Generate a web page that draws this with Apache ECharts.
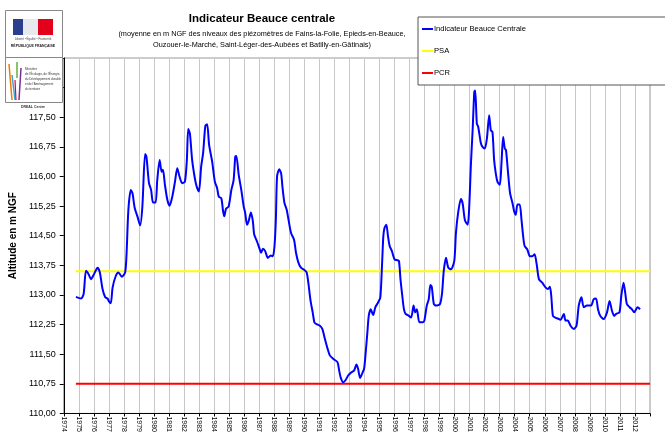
<!DOCTYPE html>
<html>
<head>
<meta charset="utf-8">
<script src="https://cdn.jsdelivr.net/npm/echarts@6/dist/echarts.min.js"></script>
<style>
html, body { margin: 0; padding: 0; background: #fff; }
#chart { width: 665px; height: 435px; }
</style>
</head>
<body>
<div id="chart"></div>
<script>
// niveaux (années décimales / m NGF)
var years = [
	1974.81, 1975.15, 1975.32, 1975.48, 1975.66, 1975.81, 1976.03, 1976.25, 1976.40, 1976.58,
	1976.76, 1976.91, 1977.02, 1977.13, 1977.25, 1977.46, 1977.64, 1977.86, 1978.08, 1978.17,
	1978.30, 1978.46, 1978.57, 1978.72, 1978.90, 1979.08, 1979.23, 1979.41, 1979.50, 1979.67,
	1979.81, 1979.94, 1980.11, 1980.22, 1980.38, 1980.51, 1980.60, 1980.73, 1980.89, 1981.04,
	1981.22, 1981.40, 1981.55, 1981.70, 1981.88, 1982.06, 1982.19, 1982.28, 1982.39, 1982.54,
	1982.70, 1982.83, 1982.99, 1983.14, 1983.27, 1983.42, 1983.54, 1983.67, 1983.87, 1984.05,
	1984.20, 1984.31, 1984.48, 1984.60, 1984.68, 1984.79, 1984.97, 1985.15, 1985.30, 1985.41,
	1985.48, 1985.64, 1985.81, 1985.97, 1986.07, 1986.19, 1986.30, 1986.45, 1986.58, 1986.67,
	1986.85, 1987.00, 1987.13, 1987.25, 1987.40, 1987.58, 1987.77, 1987.91, 1988.02, 1988.11,
	1988.19, 1988.33, 1988.46, 1988.55, 1988.68, 1988.83, 1988.95, 1989.12, 1989.32, 1989.45,
	1989.61, 1989.78, 1990.01, 1990.16, 1990.27, 1990.42, 1990.56, 1990.67, 1990.77, 1991.04,
	1991.20, 1991.37, 1991.55, 1991.70, 1991.93, 1992.21, 1992.32, 1992.43, 1992.59, 1992.74,
	1992.92, 1993.10, 1993.32, 1993.47, 1993.58, 1993.71, 1993.85, 1993.98, 1994.07, 1994.20,
	1994.29, 1994.42, 1994.58, 1994.73, 1994.91, 1995.06, 1995.17, 1995.26, 1995.34, 1995.46,
	1995.57, 1995.68, 1995.83, 1996.01, 1996.19, 1996.30, 1996.40, 1996.52, 1996.63, 1996.74,
	1996.89, 1997.11, 1997.27, 1997.38, 1997.49, 1997.66, 1997.89, 1997.99, 1998.15, 1998.28,
	1998.39, 1998.48, 1998.62, 1998.77, 1999.03, 1999.17, 1999.28, 1999.43, 1999.58, 1999.76,
	1999.98, 2000.09, 2000.25, 2000.42, 2000.54, 2000.69, 2000.87, 2000.97, 2001.09, 2001.20,
	2001.31, 2001.37, 2001.48, 2001.57, 2001.75, 2001.86, 2002.01, 2002.15, 2002.30, 2002.41,
	2002.52, 2002.63, 2002.74, 2002.85, 2003.01, 2003.12, 2003.23, 2003.34, 2003.42, 2003.56,
	2003.69, 2003.85, 2003.96, 2004.07, 2004.18, 2004.33, 2004.45, 2004.56, 2004.66, 2004.84,
	2005.01, 2005.17, 2005.32, 2005.46, 2005.61, 2005.83, 2006.05, 2006.21, 2006.34, 2006.43,
	2006.54, 2006.67, 2006.94, 2007.05, 2007.27, 2007.38, 2007.53, 2007.71, 2007.93, 2008.11,
	2008.26, 2008.44, 2008.59, 2008.81, 2009.08, 2009.25, 2009.41, 2009.54, 2009.69, 2009.91,
	2010.14, 2010.31, 2010.47, 2010.62, 2010.75, 2010.97, 2011.09, 2011.24, 2011.35, 2011.46,
	2011.64, 2011.79, 2011.95, 2012.08, 2012.17, 2012.34
];
var levels = [
	112.95, 112.91, 113.02, 113.61, 113.52, 113.40, 113.54, 113.69, 113.57, 113.15,
	112.94, 112.91, 112.83, 112.79, 113.19, 113.48, 113.57, 113.46, 113.57, 113.98,
	115.16, 115.66, 115.58, 115.20, 114.99, 114.76, 115.24, 116.57, 116.50, 115.83,
	115.66, 115.34, 115.34, 115.91, 116.42, 116.12, 116.17, 115.79, 115.41, 115.26,
	115.49, 115.87, 116.21, 116.00, 115.83, 115.87, 116.42, 117.20, 117.09, 116.42,
	116.00, 115.76, 115.62, 116.25, 116.59, 117.28, 117.32, 116.80, 116.38, 115.87,
	115.71, 115.49, 115.45, 115.12, 114.99, 115.18, 115.24, 115.66, 115.91, 116.50,
	116.52, 116.04, 115.66, 115.24, 115.08, 114.78, 114.87, 115.09, 114.87, 114.53,
	114.36, 114.20, 114.07, 114.17, 114.11, 113.94, 114.00, 113.98, 114.24, 114.91,
	116.00, 116.18, 116.08, 115.73, 115.33, 115.16, 114.91, 114.57, 114.40, 114.07,
	113.82, 113.69, 113.63, 113.57, 113.31, 112.85, 112.56, 112.31, 112.27, 112.22,
	112.14, 111.89, 111.64, 111.47, 111.38, 111.30, 111.09, 110.90, 110.79, 110.84,
	110.96, 111.03, 111.09, 111.24, 111.13, 110.90, 111.01, 111.13, 111.47, 112.06,
	112.47, 112.64, 112.49, 112.69, 112.81, 112.94, 113.73, 114.49, 114.70, 114.78,
	114.49, 114.24, 114.11, 113.90, 113.88, 113.86, 113.40, 112.98, 112.64, 112.52,
	112.49, 112.43, 112.73, 112.56, 112.64, 112.31, 112.31, 112.35, 112.73, 112.89,
	113.25, 113.21, 112.77, 112.73, 112.77, 113.06, 113.61, 113.94, 113.69, 113.65,
	113.86, 114.57, 115.12, 115.43, 115.31, 114.89, 114.78, 115.20, 116.34, 117.17,
	118.14, 118.18, 117.34, 117.26, 116.84, 116.75, 116.71, 116.96, 117.55, 117.17,
	117.13, 116.42, 116.08, 115.87, 115.79, 116.34, 117.00, 116.71, 116.67, 116.08,
	115.58, 115.33, 115.12, 115.03, 115.29, 115.29, 114.91, 114.49, 114.24, 114.15,
	113.98, 113.98, 114.03, 113.78, 113.40, 113.31, 113.19, 113.15, 113.21, 112.98,
	112.47, 112.43, 112.39, 112.37, 112.52, 112.35, 112.35, 112.22, 112.14, 112.22,
	112.73, 112.94, 112.69, 112.73, 112.73, 112.89, 112.91, 112.64, 112.47, 112.39,
	112.56, 112.85, 112.60, 112.47, 112.52, 112.56, 112.98, 113.31, 113.06, 112.77,
	112.69, 112.64, 112.56, 112.64, 112.69, 112.64
];
var psaLevel = 113.60;
var pcrLevel = 110.75;
var thresholdYears = [1974.81, 2013];
var yTickLabels = [110, 110.75, 111.5, 112.25, 113, 113.75, 114.5, 115.25, 116, 116.75, 117.5];
var yTicks = [110, 110.75, 111.5, 112.25, 113, 113.75, 114.5, 115.25, 116, 116.75, 117.5, 118.25, 119];
var xTickLabels = [];
for (var y = 1974; y <= 2012; y++) {
	xTickLabels.push(y);
}

var seriesNames = ['Indicateur Beauce Centrale', 'PSA', 'PCR'];

var font = '"Liberation Sans", Arial, sans-serif';

var indicData = [];
for (var i = 0; i < years.length; i++) {
	indicData.push([years[i], levels[i]]);
}
var psaData = [];
var pcrData = [];
for (var i = 0; i < thresholdYears.length; i++) {
	psaData.push([thresholdYears[i], psaLevel]);
	pcrData.push([thresholdYears[i], pcrLevel]);
}

var myChart = echarts.init(document.getElementById('chart'), null, { renderer: 'canvas' });

var option = {
	animation: false,
	backgroundColor: '#fff',
	title: [{
		text: 'Indicateur Beauce centrale',
		left: 257,
		top: 8,
		textAlign: 'center',
		textStyle: { fontFamily: font, fontSize: 11.5, fontWeight: 'bold', color: '#000' }
	}, {
		text: '(moyenne en m NGF des niveaux des piézomètres de Fains-la-Folie, Epieds-en-Beauce,\nOuzouer-le-Marché, Saint-Léger-des-Aubées et Batilly-en-Gâtinais)',
		left: 257,
		top: 23,
		textAlign: 'center',
		textStyle: { fontFamily: font, fontSize: 7.3, fontWeight: 'normal', color: '#000', lineHeight: 11, align: 'center' }
	}],
	legend: {
		orient: 'vertical',
		left: 418,
		top: 17,
		padding: [6, 200, 6, 4],
		itemGap: 10,
		itemWidth: 11,
		itemHeight: 2,
		borderColor: '#555',
		borderWidth: 1,
		backgroundColor: '#fff',
		data: [
			{ name: seriesNames[0], icon: 'rect' },
			{ name: seriesNames[1], icon: 'rect' },
			{ name: seriesNames[2], icon: 'rect' }
		],
		textStyle: { fontFamily: font, fontSize: 7.6, color: '#000', lineHeight: 12, padding: [0, 0, 0, -4] }
	},
	grid: {
		left: 61,
		right: 15,
		top: 58,
		bottom: 20,
		show: true,
		borderColor: '#999',
		borderWidth: 1,
		containLabel: false
	},
	xAxis: {
		type: 'value',
		min: 1974,
		max: 2013,
		interval: 1,
		axisLine: { show: true, onZero: false, lineStyle: { color: '#000', width: 1 } },
		axisTick: { show: true, length: 3, lineStyle: { color: '#000' } },
		axisLabel: {
			rotate: -90,
			fontFamily: font,
			fontSize: 7,
			color: '#000',
			margin: 3,
			customValues: xTickLabels,
			formatter: function(v) { return String(v); }
		},
		splitLine: { show: true, lineStyle: { color: '#c8c8c8', width: 1 } }
	},
	yAxis: {
		type: 'value',
		min: 110,
		max: 119,
		name: 'Altitude en m NGF',
		nameLocation: 'middle',
		nameGap: 41,
		nameTextStyle: { fontFamily: font, fontSize: 10, fontWeight: 'bold', color: '#000' },
		axisLine: { show: true, lineStyle: { color: '#000', width: 1 } },
		axisTick: { show: true, length: 4, lineStyle: { color: '#000' }, customValues: yTicks },
		axisLabel: {
			fontFamily: font,
			fontSize: 9,
			color: '#000',
			margin: 8,
			customValues: yTickLabels,
			formatter: function(v) { return v.toFixed(2).replace('.', ','); }
		},
		splitLine: { show: false }
	},
	series: [{
		name: seriesNames[0],
		type: 'line',
		data: indicData,
		showSymbol: false,
		smooth: 0.25,
		z: 3,
		lineStyle: { color: '#0000ff', width: 2 },
		itemStyle: { color: '#0000ff' }
	}, {
		name: seriesNames[1],
		type: 'line',
		data: psaData,
		showSymbol: false,
		z: 2,
		lineStyle: { color: '#ffff00', width: 2 },
		itemStyle: { color: '#ffff00' }
	}, {
		name: seriesNames[2],
		type: 'line',
		data: pcrData,
		showSymbol: false,
		z: 2,
		lineStyle: { color: '#ff0000', width: 2 },
		itemStyle: { color: '#ff0000' }
	}],
	graphic: [
		// logo Ministère / DREAL
		{ type: 'rect', z: 100, shape: { x: 5.5, y: 10.5, width: 57, height: 92 }, style: { fill: '#fff', stroke: '#888', lineWidth: 1 } },
		{ type: 'line', z: 101, shape: { x1: 5.5, y1: 57.5, x2: 62.5, y2: 57.5 }, style: { stroke: '#888', lineWidth: 1 } },
		{ type: 'rect', z: 101, shape: { x: 13, y: 19, width: 10, height: 16 }, style: { fill: '#2b3f8f' } },
		{ type: 'rect', z: 101, shape: { x: 23, y: 19, width: 15, height: 16 }, style: { fill: '#e8e8ef' } },
		{ type: 'rect', z: 101, shape: { x: 38, y: 19, width: 15, height: 16 }, style: { fill: '#e2001a' } },
		{ type: 'text', z: 101, style: { x: 33, y: 38, text: 'Liberté • Égalité • Fraternité', fontSize: 3, fontFamily: font, fill: '#444', align: 'center' } },
		{ type: 'text', z: 101, style: { x: 33, y: 44, text: 'RÉPUBLIQUE FRANÇAISE', fontSize: 3.5, fontWeight: 'bold', fontFamily: font, fill: '#222', align: 'center' } },
		{ type: 'line', z: 101, shape: { x1: 9, y1: 64, x2: 12, y2: 100 }, style: { stroke: '#ef7d00', lineWidth: 1.5 } },
		{ type: 'line', z: 101, shape: { x1: 12, y1: 75, x2: 15, y2: 100 }, style: { stroke: '#3aa7d9', lineWidth: 1.5 } },
		{ type: 'line', z: 101, shape: { x1: 17, y1: 62, x2: 17, y2: 78 }, style: { stroke: '#5db33d', lineWidth: 1.5 } },
		{ type: 'line', z: 101, shape: { x1: 21, y1: 68, x2: 19, y2: 100 }, style: { stroke: '#7b2f8e', lineWidth: 1.5 } },
		{ type: 'line', z: 101, shape: { x1: 15, y1: 80, x2: 16, y2: 100 }, style: { stroke: '#e5004f', lineWidth: 1.2 } },
		{ type: 'text', z: 101, style: { x: 25, y: 67, text: 'Ministère\nde l\'Écologie, de l\'Énergie,\ndu Développement durable\net de l\'Aménagement\ndu territoire', fontSize: 3, lineHeight: 5, fontFamily: font, fill: '#333' } },
		{ type: 'text', z: 101, style: { x: 33, y: 105, text: 'DREAL Centre', fontSize: 3.5, fontWeight: 'bold', fontFamily: font, fill: '#333', align: 'center' } }
	]
};

myChart.setOption(option);
</script>
</body>
</html>
